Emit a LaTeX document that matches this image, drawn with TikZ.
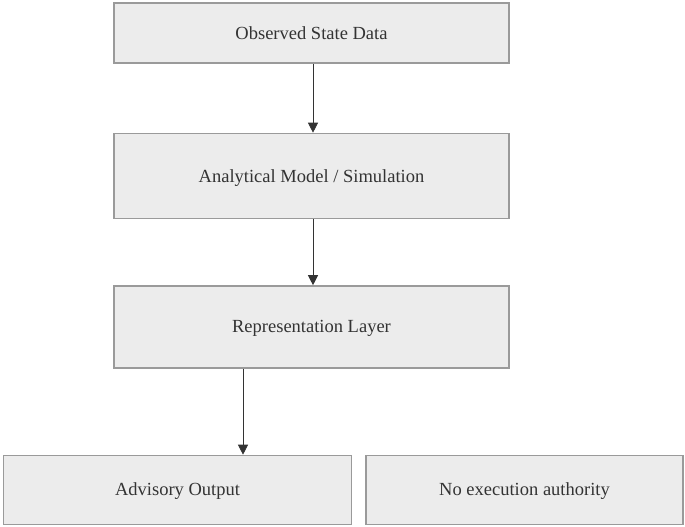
\documentclass[tikz,border=0pt]{standalone}
\usepackage{fontspec}
\setmainfont{Liberation Serif}
\usetikzlibrary{arrows.meta}
\definecolor{boxfill}{HTML}{ECECEC}
\definecolor{boxline}{HTML}{9A9A9A}
\definecolor{txt}{HTML}{333333}
\tikzset{
  box/.style={draw=boxline, line width=1.6pt, fill=boxfill, text=txt, font=\fontsize{18.5}{22}\selectfont},
  conn/.style={draw=black!80, line width=0.8pt, -{Triangle[length=10pt,width=10pt]}}
}
\begin{document}
\begin{tikzpicture}[x=1pt,y=-1pt]
\useasboundingbox (0,0) rectangle (685,527);
\node[box, minimum width=395pt, minimum height=60pt] (obs) at (311.5,33) {Observed State Data};
\node[box, minimum width=395pt, minimum height=85pt] (model) at (311.5,176) {};
\node[text=txt, font=\fontsize{18.5}{22}\selectfont] (modeltxt) at (311.5,178) {Analytical Model / Simulation};
\node[box, minimum width=395pt, minimum height=82pt] (rep) at (311.5,327) {};
\node[text=txt, font=\fontsize{18.5}{22}\selectfont] (reptxt) at (311.5,328.5) {Representation Layer};
\node[box, minimum width=348pt, minimum height=69pt] (adv) at (177.5,490) {};
\node[text=txt, font=\fontsize{18.5}{22}\selectfont] (advtxt) at (177.5,491.5) {Advisory Output};
\node[box, minimum width=317pt, minimum height=69pt] (noex) at (524.5,490) {};
\node[text=txt, font=\fontsize{18.5}{22}\selectfont] (noextxt) at (524.5,491.5) {No execution authority};
\draw[conn] (obs.south -| 313,0) -- (model.north -| 313,0);
\draw[conn] (model.south -| 313,0) -- (rep.north -| 313,0);
\draw[conn] (rep.south -| 243,0) -- (adv.north -| 243,0);
\end{tikzpicture}
\end{document}
